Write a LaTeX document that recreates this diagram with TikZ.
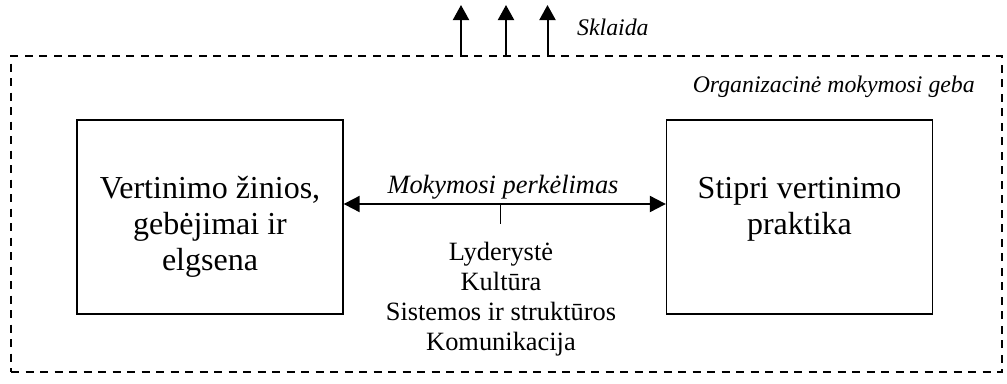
\documentclass[tikz,border=0pt]{standalone}
\usepackage{fontspec}
\setmainfont{Liberation Serif}
\usetikzlibrary{arrows.meta}
\begin{document}
\begin{tikzpicture}[x=1pt,y=-1pt,
  box/.style={draw, line width=1.3pt, minimum width=266pt, minimum height=194pt, inner sep=0pt},
  big/.style={font=\fontsize{32}{36}\selectfont, anchor=base, inner sep=0pt},
  mid/.style={font=\fontsize{26.4}{30}\selectfont, anchor=base, inner sep=0pt},
  lab/.style={font=\fontsize{23.8}{28}\itshape\selectfont, inner sep=0pt},
  arr/.style={line width=2pt, -{Triangle[length=15pt,width=16pt]}},
  darr/.style={line width=2pt, {Triangle[length=16pt,width=16pt]}-{Triangle[length=16pt,width=16pt]}},
  outer/.style={draw, line width=1.5pt, dash pattern=on 8pt off 6.5pt}]
\useasboundingbox (0,0) rectangle (1007,383);
% outer dashed frame
\node[outer, minimum width=991pt, minimum height=316pt, inner sep=0pt] (O) at (506.5,214) {};
\node[lab, anchor=base east] (org) at (975,92) {Organizacinė mokymosi geba};
% boxes
\node[box] (L) at (210,217) {};
\node[box] (R) at (799.5,217) {};
\node[big] (l1) at (210,198) {Vertinimo žinios,};
\node[big] (l2) at (210,234) {gebėjimai ir};
\node[big] (l3) at (210,270) {elgsena};
\node[big] (r1) at (799.5,198) {Stipri vertinimo};
\node[big] (r2) at (799.5,234) {praktika};
% transfer arrow
\draw[darr] ([yshift=13pt]L.east) -- ([yshift=13pt]R.west);
\node[lab, font=\fontsize{26.4}{30}\itshape\selectfont, anchor=base] (mp) at (503,193) {Mokymosi perkėlimas};
\coordinate (t) at (500.5,204);
\draw[line width=1.3pt] (t) -- ++(0,20);
\node[mid] (m1) at (501,260) {Lyderystė};
\node[mid] (m2) at (501,290) {Kultūra};
\node[mid] (m3) at (501,320) {Sistemos ir struktūros};
\node[mid] (m4) at (501,350) {Komunikacija};
% dissemination arrows
\coordinate (a1) at (461,56);
\coordinate (a2) at (506,56);
\coordinate (a3) at (547.5,56);
\draw[arr] (a1) -- ++(0,-51);
\draw[arr] (a2) -- ++(0,-51);
\draw[arr] (a3) -- ++(0,-51);
\node[lab, anchor=base west] (sk) at (577,35) {Sklaida};
\end{tikzpicture}
\end{document}
